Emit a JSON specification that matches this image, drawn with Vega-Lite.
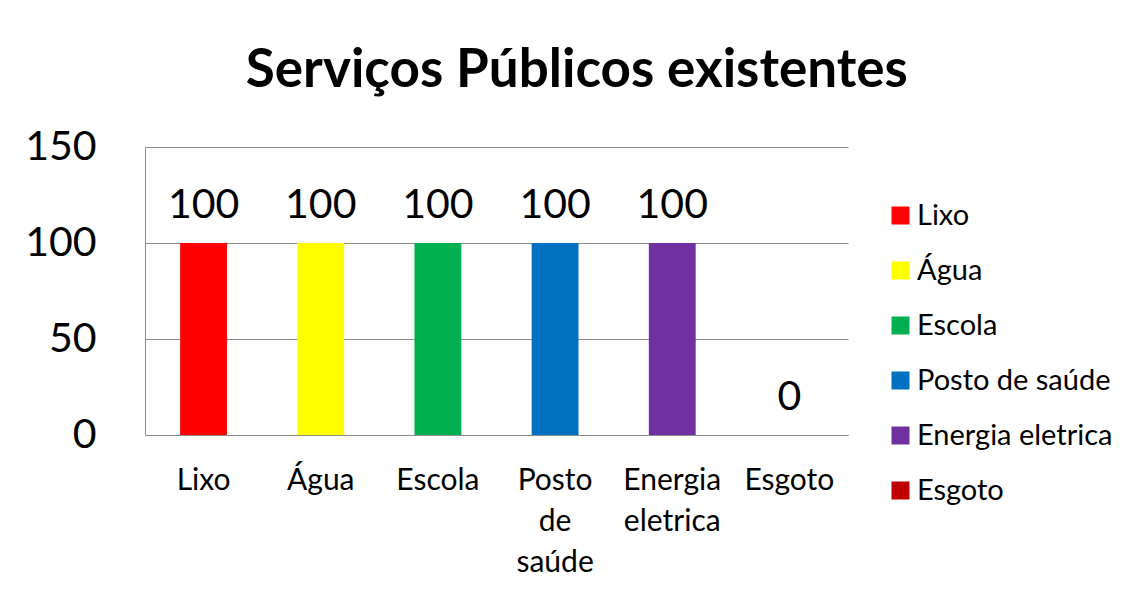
{
  "$schema": "https://vega.github.io/schema/vega-lite/v6.json",
  "width": 703,
  "height": 288,
  "padding": {"left": 24, "top": 45, "right": 0, "bottom": 0},
  "title": {"text": "Serviços Públicos existentes", "font": "Lato", "fontSize": 53, "fontWeight": "bold", "color": "#000000", "anchor": "middle", "frame": "bounds", "offset": 28, "dx": 8},
  "data": {"values": [
    {"servico": "Lixo", "valor": 100},
    {"servico": "Água", "valor": 100},
    {"servico": "Escola", "valor": 100},
    {"servico": "Posto de saúde", "valor": 100},
    {"servico": "Energia eletrica", "valor": 100},
    {"servico": "Esgoto", "valor": 0}
  ]},
  "encoding": {
    "x": {"field": "servico", "type": "nominal", "sort": null,
      "scale": {"paddingInner": 0.6, "paddingOuter": 0.3},
      "axis": {"title": null, "labelAngle": 0, "labelFont": "Lato", "labelFontSize": 30, "labelColor": "#000000", "labelPadding": 30, "labelLineHeight": 41, "labelExpr": "split(datum.label, ' ')", "ticks": false, "domainColor": "#8c8c8c"}},
    "y": {"field": "valor", "type": "quantitative", "scale": {"domain": [0, 150]},
      "axis": {"title": null, "values": [0, 50, 100, 150], "labelFont": "Lato", "labelFontSize": 41, "labelColor": "#000000", "labelPadding": 49, "ticks": false, "gridColor": "#8c8c8c", "domainColor": "#8c8c8c"}}
  },
  "layer": [
    {"mark": {"type": "bar"},
     "encoding": {"color": {"field": "servico", "type": "nominal", "sort": null,
       "scale": {"domain": ["Lixo", "Água", "Escola", "Posto de saúde", "Energia eletrica", "Esgoto"], "range": ["#ff0000", "#ffff00", "#00b050", "#0070c0", "#7030a0", "#c00000"]},
       "legend": {"title": null, "orient": "none", "legendX": 741, "legendY": 54, "symbolType": "square", "symbolSize": 324, "symbolStrokeWidth": 0, "labelFont": "Lato", "labelFontSize": 29, "labelColor": "#000000", "rowPadding": 25, "labelOffset": 2, "padding": 0, "labelLimit": 300}}}},
    {"mark": {"type": "text", "dy": -25, "baseline": "alphabetic", "font": "Lato", "fontSize": 41, "color": "#000000"},
     "encoding": {"text": {"field": "valor", "type": "quantitative"}}}
  ],
  "config": {"view": {"stroke": null}}
}
